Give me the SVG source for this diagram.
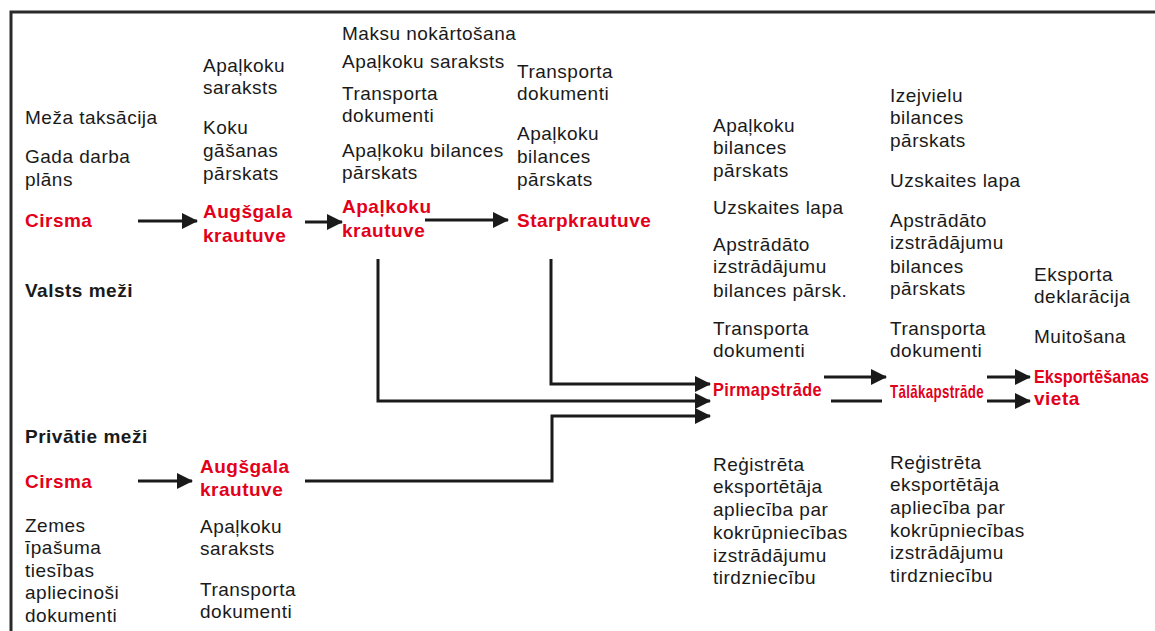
<svg xmlns="http://www.w3.org/2000/svg" width="1155" height="631" viewBox="0 0 1155 631">
<style>
text{font-family:"Liberation Sans",Arial,Helvetica,sans-serif;font-size:19px;letter-spacing:0.5px;fill:#1a1a1a}
.r{fill:#e2001a;font-weight:bold}
.b{font-weight:bold}
.c{stroke:#1a1a1a;stroke-width:3;fill:none}
</style>
<defs>
<marker id="ah" viewBox="0 0 16 16" refX="15" refY="8" markerWidth="16" markerHeight="16" markerUnits="userSpaceOnUse" orient="auto">
<path d="M0,0 L16,8 L0,16 z" fill="#1a1a1a"/>
</marker>
</defs>
<rect width="1155" height="631" fill="#fff"/>
<path d="M11,631 V12 H1155" fill="none" stroke="#2a2a2a" stroke-width="3"/>

<g id="state-cirsma">
<text x="25" y="124">Meža taksācija</text>
<text x="25" y="163">Gada darba</text>
<text x="25" y="186">plāns</text>
<text x="25" y="227" class="r">Cirsma</text>
</g>
<g id="state-label"><text x="25" y="297" class="b">Valsts meži</text></g>
<g id="state-augsgala">
<text x="203" y="72">Apaļkoku</text>
<text x="203" y="94">saraksts</text>
<text x="203" y="134">Koku</text>
<text x="203" y="157">gāšanas</text>
<text x="203" y="180">pārskats</text>
<text x="203" y="218" class="r">Augšgala</text>
<text x="203" y="242" class="r">krautuve</text>
</g>
<g id="apalkoku-krautuve">
<text x="342" y="40">Maksu nokārtošana</text>
<text x="342" y="68">Apaļkoku saraksts</text>
<text x="342" y="100">Transporta</text>
<text x="342" y="122">dokumenti</text>
<text x="342" y="157">Apaļkoku bilances</text>
<text x="342" y="179">pārskats</text>
<text x="342" y="213" class="r">Apaļkoku</text>
<text x="342" y="237" class="r">krautuve</text>
</g>
<g id="starpkrautuve">
<text x="517" y="78">Transporta</text>
<text x="517" y="100">dokumenti</text>
<text x="517" y="140">Apaļkoku</text>
<text x="517" y="163">bilances</text>
<text x="517" y="186">pārskats</text>
<text x="517" y="227" class="r">Starpkrautuve</text>
</g>
<g id="private-label"><text x="25" y="443" class="b">Privātie meži</text></g>
<g id="private-cirsma">
<text x="25" y="488" class="r">Cirsma</text>
<text x="25" y="532">Zemes</text>
<text x="25" y="554">īpašuma</text>
<text x="25" y="577">tiesības</text>
<text x="25" y="599">apliecinoši</text>
<text x="25" y="622">dokumenti</text>
</g>
<g id="private-augsgala">
<text x="200" y="473" class="r">Augšgala</text>
<text x="200" y="496" class="r">krautuve</text>
<text x="200" y="533">Apaļkoku</text>
<text x="200" y="555">saraksts</text>
<text x="200" y="596">Transporta</text>
<text x="200" y="618">dokumenti</text>
</g>
<g id="pirmapstrade">
<text x="713" y="132">Apaļkoku</text>
<text x="713" y="154">bilances</text>
<text x="713" y="177">pārskats</text>
<text x="713" y="214">Uzskaites lapa</text>
<text x="713" y="251">Apstrādāto</text>
<text x="713" y="273">izstrādājumu</text>
<text x="713" y="297">bilances pārsk.</text>
<text x="713" y="335">Transporta</text>
<text x="713" y="357">dokumenti</text>
<text x="713" y="396" class="r" textLength="109" lengthAdjust="spacingAndGlyphs">Pirmapstrāde</text>
<text x="713" y="471">Reģistrēta</text>
<text x="713" y="493">eksportētāja</text>
<text x="713" y="516">apliecība par</text>
<text x="713" y="539">kokrūpniecības</text>
<text x="713" y="562">izstrādājumu</text>
<text x="713" y="584">tirdzniecību</text>
</g>
<g id="talakapstrade">
<text x="890" y="102">Izejvielu</text>
<text x="890" y="124">bilances</text>
<text x="890" y="147">pārskats</text>
<text x="890" y="187">Uzskaites lapa</text>
<text x="890" y="227">Apstrādāto</text>
<text x="890" y="249">izstrādājumu</text>
<text x="890" y="273">bilances</text>
<text x="890" y="295">pārskats</text>
<text x="890" y="335">Transporta</text>
<text x="890" y="357">dokumenti</text>
<text x="890" y="398" class="r" textLength="94" lengthAdjust="spacingAndGlyphs">Tālākapstrāde</text>
<text x="890" y="469">Reģistrēta</text>
<text x="890" y="491">eksportētāja</text>
<text x="890" y="514">apliecība par</text>
<text x="890" y="537">kokrūpniecības</text>
<text x="890" y="559">izstrādājumu</text>
<text x="890" y="582">tirdzniecību</text>
</g>
<g id="eksportesanas-vieta">
<text x="1034" y="281">Eksporta</text>
<text x="1034" y="303">deklarācija</text>
<text x="1034" y="343">Muitošana</text>
<text x="1034" y="383" class="r" style="letter-spacing:0" textLength="115" lengthAdjust="spacingAndGlyphs">Eksportēšanas</text>
<text x="1034" y="405" class="r">vieta</text>
</g>

<g id="connectors">
<path class="c" d="M138,221 H197" marker-end="url(#ah)"/>
<path class="c" d="M305,222 H342" marker-end="url(#ah)"/>
<path class="c" d="M425,220 H508" marker-end="url(#ah)"/>
<path class="c" d="M378,259 V401 H710" marker-end="url(#ah)"/>
<path class="c" d="M551,259 V384 H710" marker-end="url(#ah)"/>
<path class="c" d="M305,481 H552 V416 H710" marker-end="url(#ah)"/>
<path class="c" d="M138,481 H192" marker-end="url(#ah)"/>
<path class="c" d="M824,377 H886" marker-end="url(#ah)"/>
<path class="c" d="M831,401 H882"/>
<path class="c" d="M987,377 H1030" marker-end="url(#ah)"/>
<path class="c" d="M987,401 H1030" marker-end="url(#ah)"/>
</g>
</svg>
